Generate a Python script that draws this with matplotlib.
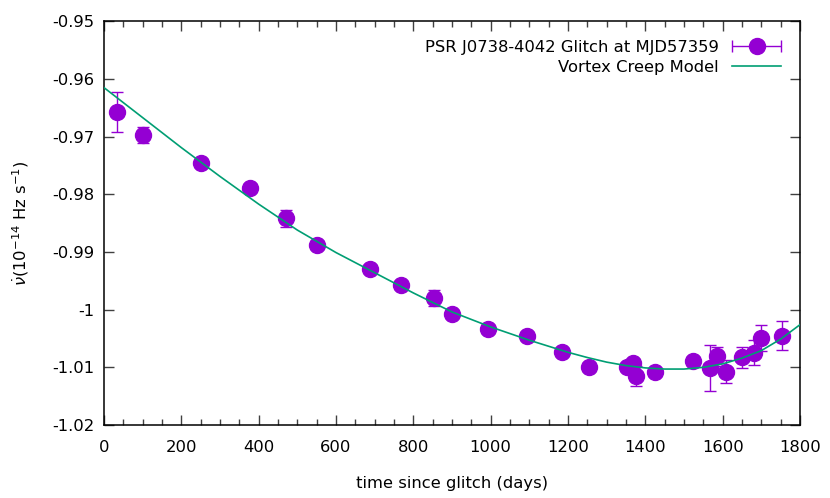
import numpy as np
import matplotlib
matplotlib.use("Agg")
import matplotlib.pyplot as plt
from matplotlib.ticker import MultipleLocator, FuncFormatter
from matplotlib.legend_handler import HandlerErrorbar

plt.rcParams['font.family'] = ['DejaVu Sans']
plt.rcParams['axes.unicode_minus'] = False

# observed spin-down rate after the glitch
t_days = [34, 101, 250, 378, 470, 551, 688, 769, 854, 901, 994, 1095, 1184,
          1254, 1353, 1368, 1375, 1426, 1523, 1566, 1584, 1609, 1650, 1680, 1700, 1753]
nudot = [-0.96577, -0.96971, -0.97456, -0.97895, -0.98415, -0.98872, -0.99293,
         -0.99576, -0.99796, -1.00080, -1.00338, -1.00454, -1.00726, -1.00997,
         -1.00986, -1.00928, -1.01147, -1.01073, -1.00882, -1.01014, -1.00812,
         -1.01073, -1.00824, -1.00743, -1.00494, -1.00454]
nudot_err = [0.0035, 0.0014, 0.0005, 0.0005, 0.0015, 0.0005, 0.0005, 0.0005,
             0.0014, 0.0005, 0.0005, 0.0005, 0.0005, 0.0005, 0.0005, 0.0007,
             0.0017, 0.0005, 0.0005, 0.0040, 0.0016, 0.0020, 0.0018, 0.0022,
             0.0023, 0.0025]

# vortex creep model curve
model_t = [0, 100, 200, 300, 400, 500, 600, 700, 800, 900, 1000, 1100, 1200,
           1250, 1300, 1350, 1400, 1450, 1500, 1550, 1600, 1650, 1700, 1750, 1800]
model_nudot = [-0.9615, -0.9667, -0.9719, -0.9769, -0.9817, -0.9862, -0.9901,
               -0.9936, -0.9971, -1.0004, -1.0030, -1.0053, -1.0074,
               -1.0083, -1.0091, -1.0097, -1.0101, -1.0103, -1.0103, -1.0100,
               -1.0094, -1.0084, -1.0071, -1.0051, -1.0026]

purple = '#9400D3'
green = '#009E73'
fs = 11.8

fig = plt.figure(figsize=(8.3, 4.98), dpi=100)
ax = fig.add_axes([0.1253, 0.1466, 0.8386, 0.8106])

ax.errorbar(t_days, nudot, yerr=nudot_err, fmt='o', color=purple, ms=11.5,
            elinewidth=1.0, capsize=4.5, capthick=1.0, zorder=3)
ax.plot(model_t, model_nudot, color=green, lw=1.2, zorder=4,
        label='Vortex Creep Model')
# legend sample in gnuplot style (horizontal bar)
ax.errorbar([np.nan], [np.nan], xerr=[np.nan], fmt='o', color=purple, ms=11.5,
            elinewidth=1.0, capsize=4.5, capthick=1.0,
            label='PSR J0738-4042 Glitch at MJD57359')

ax.set_xlim(0, 1800)
ax.set_ylim(-1.02, -0.95)
ax.xaxis.set_major_locator(MultipleLocator(200))
ax.xaxis.set_minor_locator(MultipleLocator(50))
ax.yaxis.set_major_locator(MultipleLocator(0.01))
ax.yaxis.set_major_formatter(FuncFormatter(lambda v, p: '%g' % round(v, 4)))
ax.tick_params(which='both', direction='in', top=True, right=True,
               labelsize=fs, color='#404040')
ax.tick_params(axis='x', pad=11)
ax.tick_params(axis='y', pad=7)
ax.tick_params(which='major', length=7, width=1)
ax.tick_params(which='minor', length=4, width=1)
for s in ax.spines.values():
    s.set_linewidth(1.1)

ax.set_xlabel('time since glitch (days)', fontsize=fs, labelpad=15)
ax.set_ylabel(r'$\dot{\nu}$(10$^{-14}$ Hz s$^{-1}$)', fontsize=fs, labelpad=15)

handles, labels = ax.get_legend_handles_labels()
ax.legend(handles[::-1], labels[::-1], loc='upper right', frameon=False,
          markerfirst=False, fontsize=fs, handlelength=3.0,
          labelspacing=0.3, borderaxespad=0.75,
          handler_map={type(handles[1]): HandlerErrorbar(xerr_size=1.5)})

fig.savefig('out.png', dpi=100)
